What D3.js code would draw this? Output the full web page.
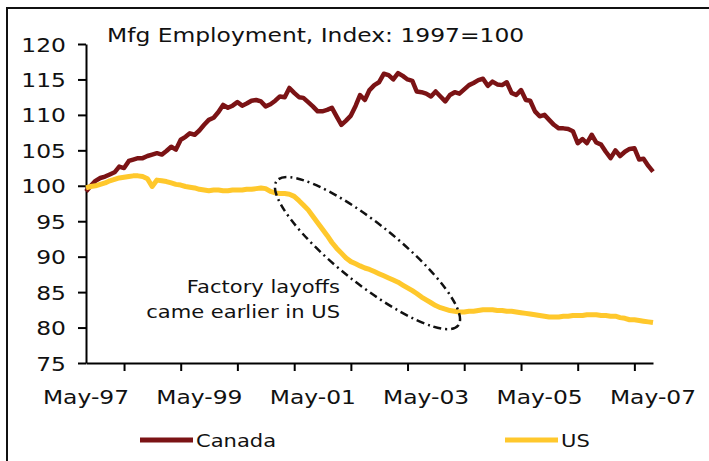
<!DOCTYPE html>
<html>
<head>
<meta charset="utf-8">
<script src="https://d3js.org/d3.v7.min.js"></script>
<style>
  body { margin: 0; background: #fff; }
  svg { display: block; font-family: "DejaVu Sans", Verdana, sans-serif; }
</style>
</head>
<body>
<svg width="709" height="461"></svg>
<script>
const title = 'Mfg Employment, Index: 1997=100';
const firstMonth = new Date(1997, 4, 1);   // May-97, one value per month to May-07

const canada = [
  99.2, 100.0, 100.7, 101.1, 101.3, 101.6, 101.9, 102.7, 102.5, 103.5,
  103.7, 103.9, 103.9, 104.2, 104.4, 104.6, 104.4, 104.9, 105.5, 105.1,
  106.5, 106.9, 107.4, 107.2, 107.8, 108.6, 109.3, 109.6, 110.4, 111.4,
  111.0, 111.3, 111.8, 111.3, 111.6, 112.0, 112.1, 111.9, 111.2, 111.5,
  112.0, 112.6, 112.5, 113.8, 113.1, 112.5, 112.4, 111.8, 111.2, 110.5,
  110.5, 110.7, 111.0, 109.8, 108.6, 109.2, 109.9, 111.3, 112.8, 112.1,
  113.5, 114.2, 114.6, 115.8, 115.6, 115.0, 115.9, 115.5, 115.0, 114.8,
  113.3, 113.2, 113.0, 112.6, 113.3, 112.6, 111.9, 112.8, 113.2, 113.0,
  113.6, 114.2, 114.5, 114.9, 115.1, 114.1, 114.7, 114.3, 114.2, 114.6,
  113.1, 112.8, 113.5, 112.1, 112.0, 110.5, 109.8, 110.0, 109.3, 108.6,
  108.1, 108.1, 108.0, 107.7, 106.0, 106.6, 106.0, 107.2, 106.1, 105.8,
  104.8, 103.9, 105.0, 104.2, 104.8, 105.2, 105.3, 103.7, 103.8, 102.8,
  102.0
];

const us = [
  99.7, 99.9, 100.0, 100.2, 100.4, 100.7, 100.9, 101.1, 101.2, 101.3,
  101.4, 101.4, 101.3, 101.0, 99.9, 100.8, 100.7, 100.6, 100.4, 100.2,
  100.1, 99.9, 99.8, 99.7, 99.5, 99.4, 99.3, 99.4, 99.4, 99.3,
  99.3, 99.4, 99.4, 99.4, 99.5, 99.5, 99.6, 99.7, 99.6, 99.2,
  99.0, 98.9, 98.9, 98.8, 98.5, 97.9, 97.3, 96.6, 95.7, 94.8,
  93.9, 93.0, 92.0, 91.2, 90.5, 89.8, 89.3, 89.0, 88.7, 88.4,
  88.2, 87.9, 87.6, 87.3, 87.0, 86.7, 86.4, 86.0, 85.6, 85.2,
  84.8, 84.3, 83.9, 83.5, 83.1, 82.8, 82.6, 82.4, 82.3, 82.2,
  82.2, 82.3, 82.3, 82.4, 82.5, 82.5, 82.5, 82.4, 82.4, 82.3,
  82.3, 82.2, 82.1, 82.0, 81.9, 81.8, 81.7, 81.6, 81.5, 81.5,
  81.5, 81.6, 81.6, 81.7, 81.7, 81.7, 81.8, 81.8, 81.8, 81.7,
  81.7, 81.6, 81.6, 81.4, 81.3, 81.1, 81.1, 81.0, 80.9, 80.8,
  80.7
];

const yTicks = [75, 80, 85, 90, 95, 100, 105, 110, 115, 120];
const xLabels = ['May-97', 'May-99', 'May-01', 'May-03', 'May-05', 'May-07'];
const noteLines = ['Factory layoffs', 'came earlier in US'];
const noteCenter = { date: new Date(2002, 3, 18), value: 90.5 };
const series = [
  { name: 'Canada', values: canada, color: '#7b1315', width: 4.5 },
  { name: 'US', values: us, color: '#ffc82c', width: 5 }
];

const svg = d3.select('svg');
const sx = 1.17; // the original art is a bit stretched sideways
const stretch = (px, py) => `translate(${px},${py}) scale(${sx},1)`;

const plot = { left: 86, right: 653, top: 44, bottom: 363 };
const dates = canada.map((d, i) => d3.timeMonth.offset(firstMonth, i));

const x = d3.scaleTime()
  .domain([firstMonth, dates[dates.length - 1]])
  .range([plot.left, plot.right]);
const y = d3.scaleLinear().domain([75, 120]).range([plot.bottom, plot.top]);

// outer frame (only top and left edges show)
svg.append('rect')
  .attr('x', 7).attr('y', 8)
  .attr('width', 760).attr('height', 520)
  .attr('fill', 'none')
  .attr('stroke', '#111')
  .attr('stroke-width', 2);

svg.append('text')
  .attr('transform', stretch(107, 42))
  .attr('font-size', 20)
  .attr('fill', '#111')
  .text(title);

// y axis
const yAxis = svg.append('g')
  .attr('transform', `translate(${plot.left},0)`)
  .call(d3.axisLeft(y).tickValues(yTicks).tickSize(8).tickSizeOuter(0).tickFormat(d3.format('d')));
yAxis.select('.domain').attr('stroke', '#000').attr('stroke-width', 2);
yAxis.selectAll('.tick line').attr('stroke', '#000').attr('stroke-width', 2);
yAxis.selectAll('.tick text')
  .attr('x', null).attr('dy', null)
  .attr('transform', stretch(-20, 7))
  .attr('font-size', 20)
  .attr('font-family', '"DejaVu Sans", Verdana, sans-serif')
  .attr('fill', '#111');

// x axis: a tick every year, a label every two
const xAxis = svg.append('g')
  .attr('transform', `translate(0,${plot.bottom})`)
  .call(d3.axisBottom(x).ticks(d3.timeMonth.every(12)).tickSize(8).tickSizeOuter(0).tickFormat(''));
xAxis.select('.domain').attr('stroke', '#000').attr('stroke-width', 2);
xAxis.selectAll('.tick line').attr('stroke', '#000').attr('stroke-width', 2);

svg.append('g')
  .selectAll('text')
  .data(xLabels)
  .join('text')
  .attr('transform', (d, i) => stretch(x(d3.timeMonth.offset(firstMonth, i * 24)), 404))
  .attr('text-anchor', 'middle')
  .attr('font-size', 20)
  .attr('fill', '#111')
  .text(d => d);

// lines
const line = d3.line()
  .x((d, i) => x(dates[i]))
  .y(d => y(d));

svg.append('g')
  .selectAll('path')
  .data(series)
  .join('path')
  .attr('d', d => line(d.values))
  .attr('fill', 'none')
  .attr('stroke', d => d.color)
  .attr('stroke-width', d => d.width)
  .attr('stroke-linejoin', 'round');

// annotation
svg.append('ellipse')
  .attr('transform', `translate(${x(noteCenter.date)},${y(noteCenter.value)}) rotate(38.6)`)
  .attr('rx', 116).attr('ry', 30)
  .attr('fill', 'none')
  .attr('stroke', '#111')
  .attr('stroke-width', 2.5)
  .attr('stroke-dasharray', '8,4,2,4');

svg.append('g')
  .selectAll('text')
  .data(noteLines)
  .join('text')
  .attr('transform', (d, i) => stretch(340, 293 + i * 25))
  .attr('text-anchor', 'end')
  .attr('font-size', 18)
  .attr('fill', '#111')
  .text(d => d);

// legend
const legend = svg.append('g')
  .selectAll('g')
  .data(series)
  .join('g')
  .attr('transform', (d, i) => `translate(${i ? 505 : 140},440)`);
legend.append('line')
  .attr('x1', 0).attr('x2', 53)
  .attr('stroke', d => d.color)
  .attr('stroke-width', 5);
legend.append('text')
  .attr('transform', stretch(56, 7))
  .attr('font-size', 18)
  .attr('fill', '#111')
  .text(d => d.name);
</script>
</body>
</html>
